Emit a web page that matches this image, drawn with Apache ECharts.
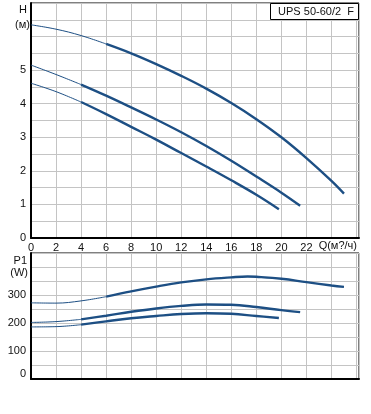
<!DOCTYPE html>
<html><head><meta charset="utf-8">
<script src="https://cdn.jsdelivr.net/npm/echarts@6/dist/echarts.min.js"></script>
<style>html,body{margin:0;padding:0;background:#fff}#c{width:371px;height:414px}</style>
</head><body><div id="c"></div>
<script>
// H (m) curves: [Q, H]
const h1 = [[0,6.35],[2,6.22],[4,6.03],[6,5.78],[8,5.5],[10,5.18],[12,4.83],[14,4.45],[16,4.02],[18,3.54],[20,3.0],[22,2.38],[24,1.7],[25,1.32]];
const h2 = [[0,5.15],[2,4.87],[4,4.57],[6,4.24],[8,3.89],[10,3.53],[12,3.15],[14,2.74],[16,2.3],[18,1.83],[20,1.35],[21.5,0.96]];
const h3 = [[0,4.61],[2,4.36],[4,4.05],[6,3.69],[8,3.31],[10,2.93],[12,2.53],[14,2.13],[16,1.72],[18,1.29],[19.8,0.86]];
// P1 (W) curves: [Q, P]
const p1 = [[0,272],[2,271],[4,279],[6,294],[8,313],[10,330],[12,345],[14,356],[16,363],[17.3,366],[18,365],[20,358],[22,346],[24,334],[25,329]];
const p2 = [[0,202],[2,205],[4,213],[6,226],[8,240],[10,252],[12,261],[14,266],[16,265],[18,257],[20,246],[21.5,239]];
const p3 = [[0,186],[2,187],[4,194],[6,206],[8,217],[10,225],[12,232],[14,235],[16,233],[18,225],[19.8,218]];
const thinUntil = {h1:6, h2:4, h3:4, p1:6, p2:4, p3:4};
const xTicks = [0,2,4,6,8,10,12,14,16,18,20,22];
const hTicks = [0,1,2,3,4,5];
const pTicks = [0,100,200,300];

const COL = '#1d4f84';
const FONT = 'Liberation Sans, Arial, sans-serif';
function split(data, q){
  const thin = data.filter(d => d[0] <= q);
  const thick = data.filter(d => d[0] >= q);
  return [thin, thick];
}
const series = [];
[['h1',h1,0],['h2',h2,0],['h3',h3,0],['p1',p1,1],['p2',p2,1],['p3',p3,1]].forEach(([k,d,g])=>{
  const [a,b] = split(d, thinUntil[k]);
  series.push({type:'line', xAxisIndex:g, yAxisIndex:g, data:a, smooth:0.4, showSymbol:false, lineStyle:{color:COL,width:1}, silent:true});
  series.push({type:'line', xAxisIndex:g, yAxisIndex:g, data:b, smooth:0.4, showSymbol:false, lineStyle:{color:COL,width:2.4}, silent:true});
});
const chart = echarts.init(document.getElementById('c'), null, {renderer:'canvas'});
const grid = {show:true, borderColor:'#000', borderWidth:1, backgroundColor:'#fff'};
chart.setOption({
  animation:false,
  grid:[
    Object.assign({left:31, top:3, width:328, height:235}, grid),
    Object.assign({left:31, top:253, width:328, height:126}, grid)
  ],
  xAxis:[
    {type:'value', gridIndex:0, min:0, max:26.2, interval:2,
     axisLine:{show:true, lineStyle:{color:'#000', width:2}}, axisTick:{show:false},
     splitLine:{show:true, lineStyle:{color:'#c4c4c4', width:1}},
     axisLabel:{color:'#111', fontFamily:FONT, fontSize:11, margin:4, showMaxLabel:false,
       formatter:v => xTicks.includes(v) ? String(v) : ''}},
    {type:'value', gridIndex:1, min:0, max:26.2, interval:2,
     axisLine:{show:true, lineStyle:{color:'#000', width:2}}, axisTick:{show:false},
     splitLine:{show:true, lineStyle:{color:'#c4c4c4', width:1}},
     axisLabel:{show:false}}
  ],
  yAxis:[
    {type:'value', gridIndex:0, min:0, max:7, interval:0.5,
     axisLine:{show:true, lineStyle:{color:'#000', width:2}}, axisTick:{show:false},
     splitLine:{show:true, lineStyle:{color:'#c4c4c4', width:1}},
     axisLabel:{color:'#111', fontFamily:FONT, fontSize:11, margin:5,
       formatter:v => hTicks.includes(v) ? String(v) : ''}},
    {type:'value', gridIndex:1, min:0, max:450, interval:50,
     axisLine:{show:true, lineStyle:{color:'#000', width:2}}, axisTick:{show:false},
     splitLine:{show:true, lineStyle:{color:'#c4c4c4', width:1}},
     axisLabel:{color:'#111', fontFamily:FONT, fontSize:11, margin:5,
       formatter:v => v === 0 ? '{z|0}' : (pTicks.includes(v) ? String(v) : ''),
       rich:{z:{fontFamily:FONT, fontSize:11, color:'#111', padding:[0,0,11,0]}}}}
  ],
  graphic:[
    {type:'text', x:27, y:10, style:{text:'H', font:'11px '+FONT, fill:'#111', textAlign:'right', textVerticalAlign:'middle'}},
    {type:'text', x:30, y:25, style:{text:'(м)', font:'11px '+FONT, fill:'#111', textAlign:'right', textVerticalAlign:'middle'}},
    {type:'text', x:27, y:261, style:{text:'P1', font:'11px '+FONT, fill:'#111', textAlign:'right', textVerticalAlign:'middle'}},
    {type:'text', x:28, y:273, style:{text:'(W)', font:'11px '+FONT, fill:'#111', textAlign:'right', textVerticalAlign:'middle'}},
    {type:'text', x:357, y:246, style:{text:'Q(м?/ч)', font:'11px '+FONT, fill:'#111', textAlign:'right', textVerticalAlign:'middle'}},
    {type:'rect', shape:{x:270.5, y:3.5, width:88, height:16}, style:{fill:'#fff', stroke:'#000', lineWidth:1}, z:100},
    {type:'text', x:316, y:12, z:101, style:{text:'UPS 50-60/2  F', font:'11px '+FONT, fill:'#111', textAlign:'center', textVerticalAlign:'middle'}}
  ],
  series: series
});
</script>
</body></html>
